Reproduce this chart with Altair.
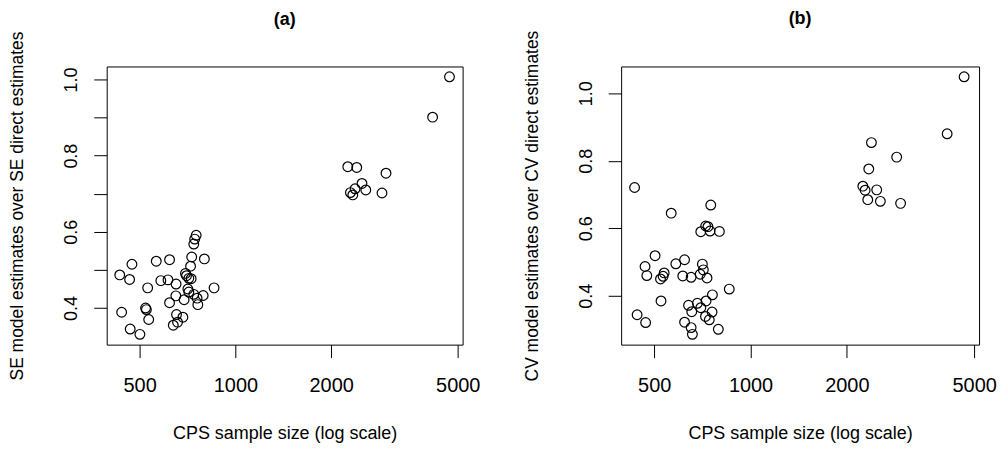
import altair as alt
import pandas as pd

# Panel (a): SE ratio
xa = [4710, 4168, 2256, 2407, 2975, 2500, 2378, 2570, 2299, 2339, 2890, 753, 745, 740, 729, 799,
      564, 621, 473, 723, 433, 465, 697, 702, 714, 726, 583, 614, 651, 530, 857, 709, 714, 740,
      792, 650, 758, 690, 621, 762, 522, 525, 439, 534, 653, 684, 658, 638, 467, 501]
ya = [1.007, 0.901, 0.771, 0.769, 0.754, 0.727, 0.713, 0.710, 0.703, 0.697, 0.702, 0.591, 0.581,
      0.568, 0.534, 0.529, 0.523, 0.527, 0.515, 0.510, 0.487, 0.475, 0.491, 0.485, 0.478, 0.477,
      0.472, 0.474, 0.463, 0.453, 0.453, 0.450, 0.442, 0.436, 0.433, 0.432, 0.426, 0.422, 0.414,
      0.409, 0.400, 0.396, 0.389, 0.370, 0.383, 0.376, 0.363, 0.355, 0.345, 0.331]

# Panel (b): CV ratio
xb = [4652, 4117, 2387, 2863, 2342, 2244, 2281, 2480, 2325, 2546, 2945, 434, 565, 751, 724, 736,
      699, 747, 799, 503, 622, 584, 468, 707, 712, 537, 533, 523, 474, 614, 652, 696, 731, 858,
      760, 525, 726, 682, 640, 699, 655, 758, 442, 723, 743, 470, 622, 652, 793, 658]
yb = [1.049, 0.880, 0.854, 0.811, 0.776, 0.725, 0.713, 0.714, 0.685, 0.680, 0.674, 0.721, 0.645,
      0.669, 0.607, 0.605, 0.590, 0.592, 0.591, 0.519, 0.507, 0.495, 0.487, 0.494, 0.477, 0.468,
      0.458, 0.450, 0.460, 0.459, 0.455, 0.464, 0.453, 0.420, 0.403, 0.385, 0.385, 0.378, 0.372,
      0.365, 0.353, 0.352, 0.344, 0.339, 0.329, 0.321, 0.322, 0.306, 0.301, 0.286]

x_ticks = [500, 1000, 2000, 5000]
ya_ticks = [0.4, 0.5, 0.6, 0.7, 0.8, 0.9, 1.0]
yb_ticks = [0.4, 0.6, 0.8, 1.0]
x_title = "CPS sample size (log scale)"
ya_title = "SE model estimates over SE direct estimates"
yb_title = "CV model estimates over CV direct estimates"

FONT = "Liberation Sans"

x_axis = alt.Axis(values=x_ticks, format="d", title=x_title, labelFontSize=20,
                  labelPadding=18, titleFontSize=18, titlePadding=29,
                  labelFlush=False, labelOverlap=False)


def y_axis(ticks, title):
    return alt.Axis(values=ticks, title=title,
                    labelExpr="(round(datum.value*10) % 2 == 0) ? format(datum.value, '.1f') : ''",
                    labelAngle=270, labelAlign="center", labelBaseline="bottom",
                    labelFontSize=18, labelPadding=13, labelOverlap=False,
                    titleFontSize=17.5, titlePadding=36)


def panel(xs, ys, yticks, ytitle, ydom, title, w):
    df = pd.DataFrame({"n": xs, "r": ys})
    return alt.Chart(df).mark_point(shape="circle", filled=False, color="black",
                                    size=95, strokeWidth=1.2, opacity=1).encode(
        x=alt.X("n:Q", scale=alt.Scale(type="log", domain=[394, 5180], nice=False), axis=x_axis),
        y=alt.Y("r:Q", scale=alt.Scale(domain=ydom, nice=False, zero=False),
                axis=y_axis(yticks, ytitle)),
    ).properties(width=w, height=279,
                 title=alt.TitleParams(title, fontSize=18, fontWeight="bold", font=FONT, offset=2))


pa = panel(xa, ya, ya_ticks, ya_title, [0.304, 1.034], "(a)", 357)
pb = panel(xb, yb, yb_ticks, yb_title, [0.2555, 1.0795], "(b)", 359)

chart = alt.hconcat(pa, pb, spacing=42).properties(padding=0).configure_view(
    stroke="black", strokeWidth=1
).configure_axis(
    grid=False, domain=False, tickColor="black", tickSize=13, tickWidth=1,
    labelColor="black", titleColor="black", labelFont=FONT, titleFont=FONT,
    titleFontWeight="normal"
).configure_title(font=FONT, anchor="middle", color="black")

chart.save("out.html", embed_options={"renderer": "svg", "actions": False})
